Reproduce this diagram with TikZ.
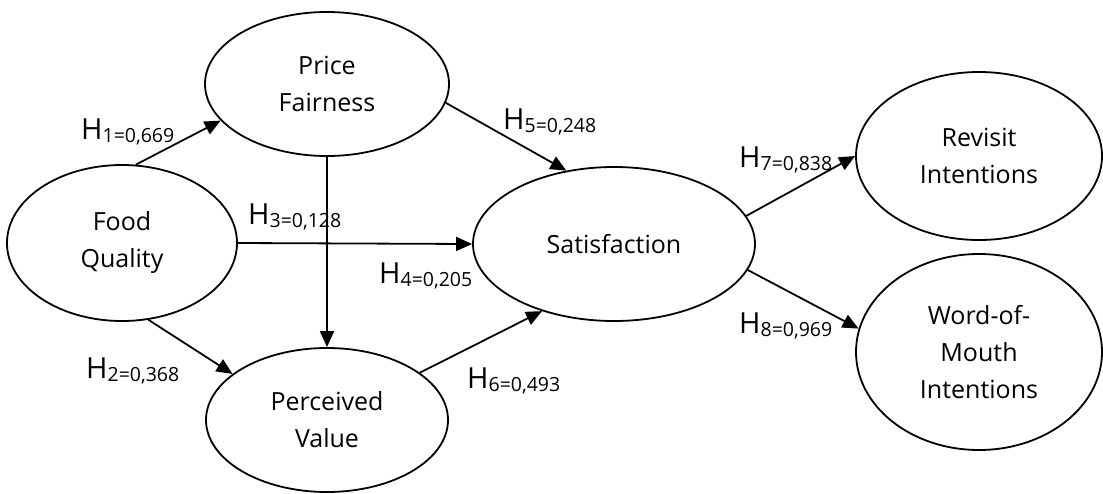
\documentclass[tikz,border=0pt]{standalone}
\usepackage{fontspec}
\setmainfont{Open Sans}
\usetikzlibrary{shapes.geometric,arrows.meta}
\tikzset{
  latent/.style={draw, ellipse, line width=1.8pt, inner sep=0pt, align=center,
    font=\fontsize{25}{37}\selectfont},
  path/.style={line width=1.8pt, -{Triangle[length=16pt,width=14pt]}},
  hyp/.style={anchor=base west, inner sep=0pt}
}
\newcommand{\hlab}[2]{{\fontsize{29}{30}\selectfont H}{\fontsize{19.5}{20}\selectfont\raisebox{-3pt}{#1=#2}}}
\begin{document}
\begin{tikzpicture}[x=1pt,y=-1pt]
\useasboundingbox (0,0) rectangle (1103,493);
\node[latent, minimum width=230pt, minimum height=156pt] (fq) at (122,243) {Food\\Quality};
\node[latent, minimum width=244pt, minimum height=144pt] (pf) at (327,84) {Price\\Fairness};
\node[latent, minimum width=242pt, minimum height=144pt] (pv) at (327,420) {Perceived\\Value};
\node[latent, minimum width=282pt, minimum height=154pt] (sat) at (614,244) {Satisfaction};
\node[latent, minimum width=246pt, minimum height=168pt] (ri) at (979,156) {Revisit\\Intentions};
\node[latent, minimum width=246pt, minimum height=196pt] (wom) at (979,352) {Word-of-\\Mouth\\Intentions};

\draw[path] (fq.80) -- (pf.199);
\draw[path] (pf.south) -- (pv.north);
\draw[path] (fq.east) -- (sat.west);
\draw[path] (fq.289) -- (pv.154);
\draw[path] (pf.351) -- (sat.123);
\draw[path] (pv.27) -- (sat.223);
\draw[path] (sat.12) -- (ri.180);
\draw[path] (sat.349) -- (wom.169);

\node[hyp] (h1) at (81,139) {\hlab{1}{0,669}};
\node[hyp] (h2) at (86,378) {\hlab{2}{0,368}};
\node[hyp] (h3) at (248,224) {\hlab{3}{0,128}};
\node[hyp] (h4) at (379,283) {\hlab{4}{0,205}};
\node[hyp] (h5) at (503,129) {\hlab{5}{0,248}};
\node[hyp] (h6) at (467,388) {\hlab{6}{0,493}};
\node[hyp] (h7) at (739,167) {\hlab{7}{0,838}};
\node[hyp] (h8) at (739,333) {\hlab{8}{0,969}};
\end{tikzpicture}
\end{document}
